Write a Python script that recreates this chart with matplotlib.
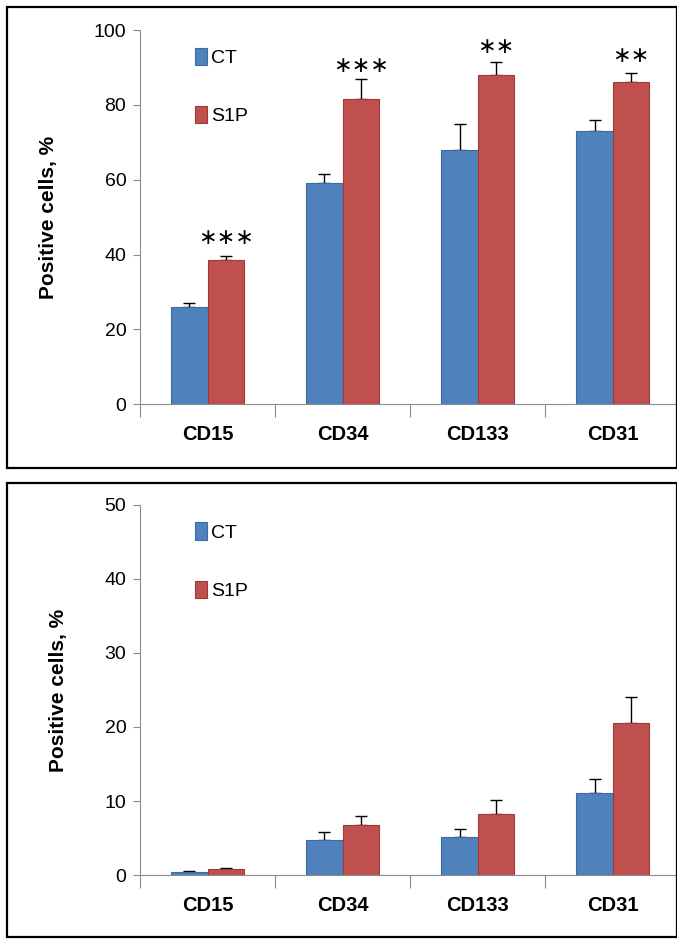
import matplotlib.pyplot as plt
from matplotlib.patches import Rectangle
import numpy as np

plt.rcParams['font.family'] = ['Liberation Sans', 'DejaVu Sans']

categories = ['CD15', 'CD34', 'CD133', 'CD31']
series = ['CT', 'S1P']

# upper panel
top_ct = [26, 59, 68, 73]
top_ct_err = [1, 2.5, 7, 3]
top_s1p = [38.5, 81.5, 88, 86]
top_s1p_err = [1, 5.5, 3.5, 2.5]
top_stars = ['***', '***', '**', '**']
top_star_y = [44.5, 90.5, 95.5, 93]

# lower panel
bot_ct = [0.4, 4.8, 5.1, 11.1]
bot_ct_err = [0.2, 1.0, 1.1, 1.9]
bot_s1p = [0.8, 6.8, 8.2, 20.5]
bot_s1p_err = [0.2, 1.2, 1.9, 3.6]

blue = '#4F81BD'
red = '#C0504D'
axis_gray = '#8C8C8C'


def draw_panel(ax, ct, ct_err, s1p, s1p_err, ymax, step, stars=None, star_y=None):
    x = np.arange(len(categories))
    w = 0.27
    ax.bar(x - w / 2, ct, w, color=blue, edgecolor='#3D6AA0', linewidth=0.8, label=series[0], zorder=2)
    ax.bar(x + w / 2, s1p, w, color=red, edgecolor='#9E3B38', linewidth=0.8, label=series[1], zorder=2)
    # one-sided error bars
    ax.errorbar(x - w / 2, ct, yerr=[np.zeros(len(ct)), ct_err], fmt='none',
                ecolor='black', elinewidth=1, capsize=4, capthick=1, zorder=1)
    ax.errorbar(x + w / 2, s1p, yerr=[np.zeros(len(s1p)), s1p_err], fmt='none',
                ecolor='black', elinewidth=1, capsize=4, capthick=1, zorder=1)
    if stars:
        for xi, s, yy in zip(x, stars, star_y):
            txt = '\u2217' * len(s)
            ax.text(xi + w / 2, yy, txt, ha='center', va='center', fontsize=16,
                    family='DejaVu Sans')

    ax.set_xlim(-0.5, 3.5)
    ax.set_ylim(0, ymax)
    ax.set_yticks(np.arange(0, ymax + 1, step))
    ax.set_xticks(np.arange(-0.5, 4, 1))
    ax.set_xticklabels([])
    ax.set_xticks(x, minor=True)
    ax.set_xticklabels(categories, minor=True, fontsize=14.5, fontweight='bold')
    ax.tick_params(axis='x', which='major', length=9, color=axis_gray, direction='out')
    ax.tick_params(axis='x', which='minor', length=0, pad=15)
    ax.tick_params(axis='y', length=5, color=axis_gray, labelsize=14, pad=5)
    for side in ['top', 'right']:
        ax.spines[side].set_visible(False)
    for side in ['left', 'bottom']:
        ax.spines[side].set_color(axis_gray)
    ax.set_ylabel('Positive cells, %', fontsize=15, fontweight='bold', labelpad=26)
    ax.legend(loc='upper left', bbox_to_anchor=(0.07, 1.0), frameon=False,
              handlelength=0.6, handleheight=1.0, handletextpad=0.2,
              labelspacing=2.0, fontsize=14)


fig = plt.figure(figsize=(6.77, 9.40), dpi=100)

ax1 = fig.add_axes([0.207, 0.570, 0.798, 0.398])
draw_panel(ax1, top_ct, top_ct_err, top_s1p, top_s1p_err, 100, 20, top_stars, top_star_y)

ax2 = fig.add_axes([0.207, 0.069, 0.798, 0.394])
draw_panel(ax2, bot_ct, bot_ct_err, bot_s1p, bot_s1p_err, 50, 10)

# frames around each panel
W, H = 677, 940
for (x0, y0, x1, y1) in [(7, 7, 677, 468), (7, 483, 677, 937)]:
    fig.patches.append(Rectangle((x0 / W, 1 - y1 / H), (x1 - x0) / W, (y1 - y0) / H,
                                 transform=fig.transFigure, fill=False,
                                 edgecolor='black', linewidth=1.6))

fig.savefig('out.png', dpi=100)
